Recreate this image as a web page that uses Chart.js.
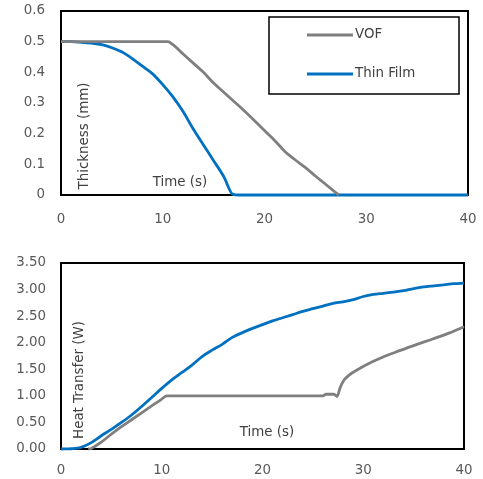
<!DOCTYPE html>
<html><head><meta charset="utf-8">
<script src="https://cdn.jsdelivr.net/npm/chart.js@4.4.0/dist/chart.umd.min.js"></script>
<style>
html,body{margin:0;padding:0;background:#fff;}
#wrap{position:relative;width:483px;height:479px;}
.box{position:absolute;left:0;width:483px;}
</style></head><body>
<div id="wrap">
<div class="box" style="top:0;height:240px"><canvas id="c1"></canvas></div>
<div class="box" style="top:240px;height:239px"><canvas id="c2"></canvas></div>
</div>
<script>
// ---- data ----
const seriesNames = ['VOF', 'Thin Film'];
const timeTicks = [0, 10, 20, 30, 40];
const thickTicks = [0, 0.1, 0.2, 0.3, 0.4, 0.5, 0.6];
const heatTicks = [0, 0.5, 1, 1.5, 2, 2.5, 3, 3.5];

const thickVofTime = [0, 10.5, 11, 12, 13, 14, 15, 16, 17, 18, 19, 20, 21, 22, 23, 24, 25, 26, 27, 27.3];
const thickVof     = [0.5, 0.5, 0.49, 0.46, 0.43, 0.4, 0.365, 0.335, 0.305, 0.275, 0.243, 0.21, 0.178, 0.142, 0.115, 0.09, 0.062, 0.035, 0.008, 0];
const thickFilmTime = [0, 1, 2, 3, 4, 5, 6, 7, 8, 9, 10, 11, 12, 13, 14, 15, 16, 16.9, 17.5, 40];
const thickFilm     = [0.5, 0.5, 0.498, 0.495, 0.49, 0.48, 0.466, 0.445, 0.42, 0.395, 0.36, 0.32, 0.272, 0.215, 0.163, 0.112, 0.06, 0.002, 0, 0];

const heatVofTime = [2.7, 3, 4, 5, 6, 7, 8, 9, 10, 10.5, 26, 26.3, 27.1, 27.4, 27.7, 28, 28.6, 29.6, 30.9, 32.2, 33.6, 35.2, 36.9, 38.5, 40];
const heatVof     = [0, 0.01, 0.13, 0.28, 0.42, 0.55, 0.68, 0.81, 0.94, 1.0, 1.0, 1.03, 1.03, 0.99, 1.15, 1.27, 1.39, 1.51, 1.64, 1.75, 1.85, 1.96, 2.07, 2.18, 2.3];
const heatFilmTime = [0, 1, 2, 3, 4, 5, 6, 7, 8, 9, 10, 11, 12, 13, 14, 15, 16, 17, 18, 19, 20, 21, 22, 23, 24, 25, 26, 27, 28, 29, 30, 31, 32, 33, 34, 35, 36, 37, 38, 39, 40];
const heatFilm     = [0, 0.005, 0.03, 0.12, 0.25, 0.37, 0.5, 0.64, 0.8, 0.97, 1.14, 1.3, 1.44, 1.58, 1.74, 1.86, 1.97, 2.1, 2.19, 2.27, 2.34, 2.41, 2.47, 2.53, 2.59, 2.64, 2.69, 2.74, 2.77, 2.81, 2.87, 2.91, 2.93, 2.95, 2.98, 3.02, 3.05, 3.07, 3.09, 3.11, 3.12];

const thickTitle = 'Thickness (mm)';
const heatTitle = 'Heat Transfer (W)';
const timeTitle = 'Time (s)';

// ---- styling ----
const FONT = 'DejaVu Sans';
const FS = 13.4;
const GRAY = '#7f7f7f';
const BLUE = '#0070c0';
const TICK = '#595959';
const TITLE = '#404040';

function pts(xs, ys) { return xs.map((x, i) => ({ x: x, y: ys[i] })); }

const framePlugin = {
  id: 'frame',
  beforeDatasetsDraw(chart) {
    const a = chart.chartArea, ctx = chart.ctx;
    ctx.save();
    ctx.strokeStyle = '#000';
    ctx.lineWidth = 2;
    ctx.strokeRect(a.left, a.top, a.right - a.left, a.bottom - a.top);
    ctx.restore();
  },
  afterDatasetsDraw(chart, args, opts) {
    const ctx = chart.ctx;
    ctx.save();
    ctx.font = FS + 'px "' + FONT + '"';
    ctx.fillStyle = TITLE;
    ctx.textAlign = 'center';
    ctx.textBaseline = 'middle';
    (opts.titles || []).forEach(t => {
      ctx.save();
      ctx.translate(t.x, t.y);
      if (t.rot) ctx.rotate(-Math.PI / 2);
      ctx.fillText(t.text, 0, 0);
      ctx.restore();
    });
    if (opts.legend) {
      const L = opts.legend;
      ctx.strokeStyle = '#000';
      ctx.lineWidth = 1.5;
      ctx.strokeRect(L.x0, L.y0, L.x1 - L.x0, L.y1 - L.y0);
      ctx.textAlign = 'left';
      chart.data.datasets.forEach((ds, i) => {
        const y = L.rows[i];
        ctx.strokeStyle = ds.borderColor;
        ctx.lineWidth = 3;
        ctx.beginPath();
        ctx.moveTo(L.lx0, y);
        ctx.lineTo(L.lx1, y);
        ctx.stroke();
        ctx.fillStyle = TITLE;
        ctx.fillText(ds.label, L.tx, y);
      });
    }
    ctx.restore();
  }
};

function zeroPad(s) { s.paddingTop = 0; s.paddingBottom = 0; s.paddingLeft = 0; s.paddingRight = 0; }

function baseOptions(yTicks, yFmt, pad, yPad, xPad, xHeight, extra) {
  return {
    responsive: true,
    maintainAspectRatio: false,
    animation: false,
    layout: { padding: pad },
    plugins: {
      legend: { display: false },
      tooltip: { enabled: false },
      frame: extra
    },
    elements: { point: { radius: 0 }, line: { borderWidth: 2.8, tension: 0, cubicInterpolationMode: 'monotone' } },
    scales: {
      x: {
        type: 'linear',
        min: timeTicks[0], max: timeTicks[timeTicks.length - 1],
        grid: { display: false, drawTicks: false },
        border: { display: false },
        afterBuildTicks: s => { s.ticks = timeTicks.map(v => ({ value: v })); },
        afterFit: s => { s.height = xHeight; zeroPad(s); },
        ticks: { padding: xPad, color: TICK, font: { family: FONT, size: FS }, maxRotation: 0 }
      },
      y: {
        type: 'linear',
        min: yTicks[0], max: yTicks[yTicks.length - 1],
        grid: { display: false, drawTicks: false },
        border: { display: false },
        afterBuildTicks: s => { s.ticks = yTicks.map(v => ({ value: v })); },
        afterFit: s => { s.width = 61; zeroPad(s); },
        ticks: { padding: yPad, color: TICK, font: { family: FONT, size: FS }, callback: yFmt }
      }
    }
  };
}

new Chart(document.getElementById('c1'), {
  type: 'line',
  data: {
    datasets: [
      { label: seriesNames[0], data: pts(thickVofTime, thickVof), borderColor: GRAY, clip: 4 },
      { label: seriesNames[1], data: pts(thickFilmTime, thickFilm), borderColor: BLUE, clip: 4 }
    ]
  },
  options: baseOptions(thickTicks, v => String(Number(v.toFixed(1))),
    { left: 0, top: 11, right: 15, bottom: 0 }, 16, 16, 45,
    {
      titles: [
        { text: thickTitle, x: 85, y: 136, rot: true },
        { text: timeTitle, x: 180, y: 183 }
      ],
      legend: { x0: 269, y0: 17, x1: 459, y1: 94, lx0: 307, lx1: 353, tx: 355, rows: [35, 74] }
    }),
  plugins: [framePlugin]
});

new Chart(document.getElementById('c2'), {
  type: 'line',
  data: {
    datasets: [
      { label: seriesNames[0], data: pts(heatVofTime, heatVof), borderColor: GRAY, clip: 4 },
      { label: seriesNames[1], data: pts(heatFilmTime, heatFilm), borderColor: BLUE, clip: 4 }
    ]
  },
  options: baseOptions(heatTicks, v => v.toFixed(2),
    { left: 0, top: 23, right: 19, bottom: 0 }, 15, 13, 30,
    {
      titles: [
        { text: heatTitle, x: 80, y: 140, rot: true },
        { text: timeTitle, x: 267, y: 193 }
      ]
    }),
  plugins: [framePlugin]
});
</script>
</body></html>
